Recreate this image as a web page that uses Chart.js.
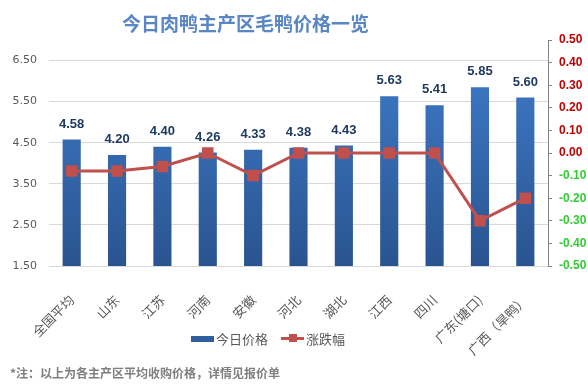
<!DOCTYPE html>
<html>
<head>
<meta charset="utf-8">
<script src="https://cdn.jsdelivr.net/npm/chart.js@4/dist/chart.umd.min.js"></script>
<style>
  body { margin: 0; background: #fff; }
  #wrap { position: relative; width: 588px; height: 392px; overflow: hidden; font-family: "Noto Sans CJK SC", sans-serif; }
  #chart { position: absolute; left: 0; top: 0; }
  #title { position: absolute; left: 122px; top: 9px; font-size: 19px; font-weight: bold; color: #5a86c5; white-space: nowrap; }
  #legend { position: absolute; left: 191px; top: 329px; font-size: 13px; color: #595959; display: flex; align-items: center; white-space: nowrap; }
  #legend .bar { display: inline-block; width: 23px; height: 6px; background: #2f5f9e; margin-right: 2px; }
  #legend .line { position: relative; display: inline-block; width: 23px; height: 3px; background: #c0504d; margin: 0 2px 0 13px; }
  #legend .line i { position: absolute; left: 8px; top: -3px; width: 8px; height: 8px; background: #c0504d; }
  #note { position: absolute; left: 10px; top: 364px; font-size: 12px; font-weight: bold; color: #7f7f7f; white-space: nowrap; }
</style>
</head>
<body>
<div id="wrap">
  <canvas id="chart" width="588" height="392"></canvas>
  <div id="title">今日肉鸭主产区毛鸭价格一览</div>
  <div id="legend"><span class="bar"></span>今日价格<span class="line"><i></i></span>涨跌幅</div>
  <div id="note">*注：以上为各主产区平均收购价格，详情见报价单</div>
</div>
<script>
const regions = ['全国平均', '山东', '江苏', '河南', '安徽', '河北', '湖北', '江西', '四川', '广东(塘口)', '广西（旱鸭）'];
const prices = [4.58, 4.20, 4.40, 4.26, 4.33, 4.38, 4.43, 5.63, 5.41, 5.85, 5.60];
const changes = [-0.08, -0.08, -0.06, 0, -0.10, 0, 0, 0, 0, -0.30, -0.20];
const priceTicks = [1.5, 2.5, 3.5, 4.5, 5.5, 6.5];

// value labels above the bars
const barLabels = {
  id: 'barLabels',
  afterDatasetsDraw(chart) {
    const meta = chart.getDatasetMeta(0);
    const ctx = chart.ctx;
    ctx.save();
    ctx.font = 'bold 13px "Liberation Sans", sans-serif';
    ctx.fillStyle = '#1f3a60';
    ctx.textAlign = 'center';
    ctx.textBaseline = 'bottom';
    meta.data.forEach((bar, i) => {
      ctx.fillText(prices[i].toFixed(2), bar.x, bar.y - 9);
    });
    ctx.restore();
  },
};

function barGradient(context) {
  const area = context.chart.chartArea;
  if (!area) return '#3468ad';
  const g = context.chart.ctx.createLinearGradient(0, area.top, 0, area.bottom);
  g.addColorStop(0, '#3f7dcc');
  g.addColorStop(1, '#2a5490');
  return g;
}

new Chart(document.getElementById('chart'), {
  data: {
    labels: regions,
    datasets: [
      {
        type: 'bar',
        label: '今日价格',
        data: prices,
        yAxisID: 'y',
        backgroundColor: barGradient,
        barPercentage: 0.4,
        categoryPercentage: 1,
        order: 1,
      },
      {
        type: 'line',
        label: '涨跌幅',
        data: changes,
        yAxisID: 'y1',
        borderColor: '#c0504d',
        backgroundColor: '#c0504d',
        borderWidth: 3,
        pointStyle: 'rect',
        pointRadius: 6,
        pointHoverRadius: 6,
        tension: 0,
        order: 0,
      },
    ],
  },
  options: {
    responsive: false,
    animation: false,
    layout: { padding: { top: 40, left: 0, right: 0, bottom: 36 } },
    plugins: {
      legend: { display: false },
      tooltip: { enabled: false },
    },
    scales: {
      x: {
        grid: { display: false },
        border: { display: false },
        ticks: {
          minRotation: 45,
          maxRotation: 45,
          padding: 18,
          color: '#595959',
          font: { family: '"Noto Sans CJK SC"', size: 13 },
        },
        afterFit: (s) => { s.height = 90; },
      },
      y: {
        position: 'left',
        min: 1.5,
        max: 7,
        afterBuildTicks: (s) => { s.ticks = priceTicks.map((v) => ({ value: v })); },
        grid: { color: '#d9d9d9', drawTicks: false },
        border: { display: false },
        ticks: {
          padding: 12,
          color: '#595959',
          font: { family: '"DejaVu Sans"', size: 11 },
          callback: (v) => Number(v).toFixed(2),
        },
        afterFit: (s) => { s.width = 49; },
      },
      y1: {
        position: 'right',
        min: -0.5,
        max: 0.5,
        grid: { drawOnChartArea: false, color: '#868686', tickLength: 4 },
        border: { color: '#868686' },
        ticks: {
          stepSize: 0.1,
          padding: 7,
          font: { family: '"Liberation Sans"', size: 12, weight: 'bold' },
          color: (ctx) => (ctx.tick && ctx.tick.value < -1e-9 ? '#33cc33' : '#c00000'),
          callback: (v) => (Math.abs(v) < 1e-9 ? 0 : v).toFixed(2),
        },
        afterFit: (s) => { s.width = 40; },
      },
    },
  },
  plugins: [barLabels],
});
</script>
</body>
</html>
